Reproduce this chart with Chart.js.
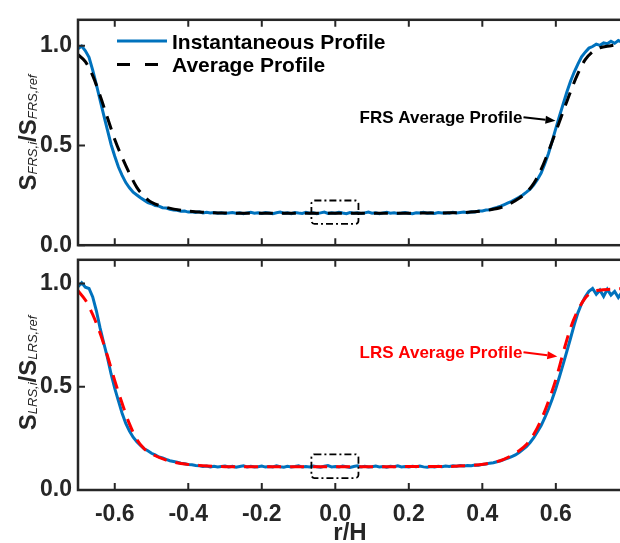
<!DOCTYPE html>
<html>
<head>
<meta charset="utf-8">
<script src="https://cdn.jsdelivr.net/npm/chart.js@4.4.1/dist/chart.umd.min.js"></script>
<style>
  html, body { margin: 0; padding: 0; background: #fff; overflow: hidden; width: 620px; height: 543px; }
  canvas { position: absolute; left: 0; }
  #top { top: 0; }
  #bottom { top: 240px; }
</style>
</head>
<body>
<canvas id="top" width="624" height="265"></canvas>
<canvas id="bottom" width="624" height="303"></canvas>
<script>
// r/H positions of the instantaneous profiles
const rH = [
  -0.70, -0.69, -0.68, -0.67, -0.66, -0.65, -0.64, -0.63, -0.62, -0.61,
  -0.60, -0.59, -0.58, -0.57, -0.56, -0.55, -0.54, -0.53, -0.52, -0.51,
  -0.50, -0.49, -0.48, -0.47, -0.46, -0.45, -0.44, -0.43, -0.42, -0.41,
  -0.40, -0.39, -0.38, -0.37, -0.36, -0.35, -0.34, -0.33, -0.32, -0.31,
  -0.30, -0.29, -0.28, -0.27, -0.26, -0.25, -0.24, -0.23, -0.22, -0.21,
  -0.20, -0.19, -0.18, -0.17, -0.16, -0.15, -0.14, -0.13, -0.12, -0.11,
  -0.10, -0.09, -0.08, -0.07, -0.06, -0.05, -0.04, -0.03, -0.02, -0.01,
  0.00, 0.01, 0.02, 0.03, 0.04, 0.05, 0.06, 0.07, 0.08, 0.09,
  0.10, 0.11, 0.12, 0.13, 0.14, 0.15, 0.16, 0.17, 0.18, 0.19,
  0.20, 0.21, 0.22, 0.23, 0.24, 0.25, 0.26, 0.27, 0.28, 0.29,
  0.30, 0.31, 0.32, 0.33, 0.34, 0.35, 0.36, 0.37, 0.38, 0.39,
  0.40, 0.41, 0.42, 0.43, 0.44, 0.45, 0.46, 0.47, 0.48, 0.49,
  0.50, 0.51, 0.52, 0.53, 0.54, 0.55, 0.56, 0.57, 0.58, 0.59,
  0.60, 0.61, 0.62, 0.63, 0.64, 0.65, 0.66, 0.67, 0.68, 0.69,
  0.70, 0.71, 0.72, 0.73, 0.74, 0.75, 0.76, 0.77, 0.78
];

const frsInst = [
  0.985, 0.998, 0.975, 0.942, 0.878, 0.805, 0.728, 0.652, 0.578, 0.505,
  0.446, 0.392, 0.350, 0.314, 0.288, 0.266, 0.252, 0.238, 0.226, 0.214,
  0.208, 0.199, 0.196, 0.188, 0.186, 0.180, 0.177, 0.175, 0.170, 0.171,
  0.166, 0.168, 0.164, 0.167, 0.162, 0.165, 0.161, 0.164, 0.160, 0.163,
  0.159, 0.162, 0.164, 0.160, 0.163, 0.158, 0.162, 0.165, 0.160, 0.163,
  0.159, 0.164, 0.161, 0.158, 0.163, 0.166, 0.160, 0.162, 0.158, 0.164,
  0.161, 0.159, 0.165, 0.160, 0.163, 0.158, 0.162, 0.166, 0.159, 0.163,
  0.160, 0.165, 0.161, 0.158, 0.164, 0.160, 0.163, 0.159, 0.162, 0.166,
  0.160, 0.163, 0.158, 0.162, 0.165, 0.160, 0.163, 0.159, 0.161, 0.164,
  0.160, 0.158, 0.163, 0.161, 0.165, 0.160, 0.162, 0.159, 0.164, 0.161,
  0.163, 0.160, 0.165, 0.162, 0.164, 0.166, 0.163, 0.168, 0.167, 0.171,
  0.172, 0.176, 0.178, 0.184, 0.189, 0.196, 0.204, 0.212, 0.220, 0.230,
  0.240, 0.252, 0.266, 0.281, 0.302, 0.330, 0.362, 0.408, 0.460, 0.522,
  0.586, 0.648, 0.708, 0.768, 0.822, 0.868, 0.908, 0.944, 0.968, 0.988,
  0.996, 1.008, 1.002, 1.014, 1.010, 1.022, 1.012, 1.026, 1.018
];

const lrsInst = [
  0.985, 1.004, 0.982, 0.976, 0.935, 0.868, 0.785, 0.712, 0.642, 0.562,
  0.492, 0.432, 0.372, 0.322, 0.286, 0.256, 0.234, 0.216, 0.200, 0.190,
  0.178, 0.170, 0.160, 0.155, 0.148, 0.142, 0.138, 0.134, 0.130, 0.127,
  0.124, 0.122, 0.119, 0.117, 0.114, 0.116, 0.112, 0.115, 0.111, 0.114,
  0.116, 0.112, 0.115, 0.110, 0.114, 0.117, 0.112, 0.115, 0.111, 0.113,
  0.116, 0.111, 0.114, 0.112, 0.117, 0.113, 0.110, 0.115, 0.112, 0.114,
  0.117, 0.111, 0.114, 0.112, 0.116, 0.113, 0.110, 0.115, 0.118, 0.112,
  0.114, 0.111, 0.116, 0.113, 0.109, 0.114, 0.117, 0.112, 0.115, 0.111,
  0.113, 0.116, 0.112, 0.114, 0.110, 0.115, 0.113, 0.117, 0.112, 0.114,
  0.111, 0.115, 0.113, 0.116, 0.112, 0.110, 0.114, 0.112, 0.115, 0.113,
  0.116, 0.114, 0.117, 0.115, 0.118, 0.116, 0.119, 0.118, 0.121, 0.120,
  0.124, 0.126, 0.130, 0.132, 0.137, 0.141, 0.148, 0.154, 0.162, 0.170,
  0.182, 0.196, 0.210, 0.230, 0.254, 0.282, 0.312, 0.350, 0.392, 0.440,
  0.492, 0.550, 0.610, 0.672, 0.735, 0.800, 0.858, 0.902, 0.936, 0.962,
  0.976, 0.948, 0.968, 0.938, 0.972, 0.944, 0.962, 0.932, 0.958
];

// average profiles (smooth, fewer points)
const avgRH = [-0.70, -0.68, -0.66, -0.64, -0.62, -0.60, -0.58, -0.56, -0.54, -0.52,
  -0.50, -0.46, -0.42, -0.36, -0.30, 0.00, 0.30, 0.36, 0.42, 0.46,
  0.50, 0.52, 0.54, 0.56, 0.58, 0.60, 0.62, 0.64, 0.66, 0.68,
  0.70, 0.72, 0.75, 0.78];
const frsAvg = [0.955, 0.920, 0.850, 0.750, 0.640, 0.530, 0.440, 0.360, 0.290, 0.245,
  0.215, 0.190, 0.175, 0.165, 0.161, 0.160, 0.162, 0.165, 0.177, 0.195,
  0.235, 0.265, 0.310, 0.380, 0.470, 0.570, 0.670, 0.770, 0.860, 0.930,
  0.970, 0.990, 1.000, 1.010];
const lrsAvg = [0.965, 0.920, 0.850, 0.760, 0.650, 0.530, 0.420, 0.320, 0.245, 0.200,
  0.175, 0.145, 0.128, 0.118, 0.113, 0.113, 0.114, 0.118, 0.130, 0.150,
  0.190, 0.220, 0.270, 0.340, 0.430, 0.535, 0.665, 0.785, 0.870, 0.930,
  0.960, 0.968, 0.972, 0.975];

const xTicks = [-0.6, -0.4, -0.2, 0.0, 0.2, 0.4, 0.6];
const yTicks = [0.0, 0.5, 1.0];

const FONT = '"Liberation Sans", Arial, Helvetica, sans-serif';
const INK = '#262626';
const BLUE = '#0072BD';

function pts(xs, ys) {
  return xs.map((x, i) => ({ x: x, y: ys[i] }));
}

function arrow(ctx, x0, y0, x1, y1, color) {
  const a = Math.atan2(y1 - y0, x1 - x0), L = 10, W = 4;
  const bx = x1 - L * Math.cos(a), by = y1 - L * Math.sin(a);
  ctx.strokeStyle = color;
  ctx.fillStyle = color;
  ctx.lineWidth = 2;
  ctx.setLineDash([]);
  ctx.beginPath();
  ctx.moveTo(x0, y0);
  ctx.lineTo(bx, by);
  ctx.stroke();
  ctx.beginPath();
  ctx.moveTo(x1, y1);
  ctx.lineTo(bx + W * Math.sin(a), by - W * Math.cos(a));
  ctx.lineTo(bx - W * Math.sin(a), by + W * Math.cos(a));
  ctx.closePath();
  ctx.fill();
}

function drawYLabel(ctx, cx, cy, sub1, sub2) {
  const parts = [
    { t: 'S', f: 'bold 24px ' + FONT, d: 0 },
    { t: sub1, f: 'italic 13px ' + FONT, d: 1 },
    { t: '/S', f: 'bold 24px ' + FONT, d: 0 },
    { t: sub2, f: 'italic 13px ' + FONT, d: 1 }
  ];
  ctx.save();
  ctx.translate(cx, cy);
  ctx.rotate(-Math.PI / 2);
  let w = 0;
  parts.forEach(p => { ctx.font = p.f; p.w = ctx.measureText(p.t).width; w += p.w; });
  let x = -w / 2;
  ctx.fillStyle = INK;
  ctx.textAlign = 'left';
  ctx.textBaseline = 'alphabetic';
  parts.forEach(p => { ctx.font = p.f; ctx.fillText(p.t, x, p.d); x += p.w; });
  ctx.restore();
}

// frame, inward ticks, dash-dot box, legend, annotations
const decor = {
  id: 'decor',
  afterDatasetsDraw(chart, args, o) {
    const { ctx, scales: { x, y } } = chart;
    ctx.save();
    // dash-dot box around the centre
    const bx0 = x.getPixelForValue(o.box[0]), bx1 = x.getPixelForValue(o.box[1]);
    const by0 = y.getPixelForValue(o.box[3]), by1 = y.getPixelForValue(o.box[2]);
    ctx.strokeStyle = '#000';
    ctx.lineWidth = 1.8;
    ctx.setLineDash([7, 3, 2, 3]);
    ctx.beginPath();
    ctx.roundRect(bx0, by0, bx1 - bx0, by1 - by0, 3);
    ctx.stroke();
    ctx.restore();
  },
  afterDraw(chart, args, o) {
    const { ctx, chartArea: a, scales: { x, y } } = chart;
    ctx.save();
    ctx.strokeStyle = INK;
    ctx.lineWidth = 2.5;
    ctx.setLineDash([]);
    ctx.strokeRect(a.left, a.top, a.right - a.left, a.bottom - a.top);
    ctx.lineWidth = 2;
    ctx.beginPath();
    x.ticks.forEach(t => {
      const px = x.getPixelForValue(t.value);
      ctx.moveTo(px, a.bottom); ctx.lineTo(px, a.bottom - 7);
      ctx.moveTo(px, a.top); ctx.lineTo(px, a.top + 7);
    });
    y.ticks.forEach(t => {
      const py = y.getPixelForValue(t.value);
      ctx.moveTo(a.left, py); ctx.lineTo(a.left + 7, py);
    });
    ctx.stroke();

    drawYLabel(ctx, 36, (a.top + a.bottom) / 2 + o.labelShift, o.sub[0], o.sub[1]);

    // annotation with arrow
    const n = o.note;
    ctx.font = 'bold 17px ' + FONT;
    ctx.fillStyle = n.color;
    ctx.textAlign = 'right';
    ctx.textBaseline = 'alphabetic';
    ctx.fillText(n.text, x.getPixelForValue(n.at[0]), y.getPixelForValue(n.at[1]));
    arrow(ctx, x.getPixelForValue(n.from[0]), y.getPixelForValue(n.from[1]),
      x.getPixelForValue(n.to[0]), y.getPixelForValue(n.to[1]), n.color);

    if (o.legend) {
      const ds = chart.data.datasets;
      const rows = [ds[1], ds[0]];
      ctx.font = 'bold 21px ' + FONT;
      ctx.textAlign = 'left';
      ctx.fillStyle = '#000';
      rows.forEach((d, i) => {
        const ly = 41 + i * 23.5;
        ctx.strokeStyle = d.borderColor;
        ctx.lineWidth = 3;
        ctx.setLineDash(d.borderDash && d.borderDash.length ? [13, 15] : []);
        ctx.beginPath();
        ctx.moveTo(117, ly);
        ctx.lineTo(167, ly);
        ctx.stroke();
        ctx.fillText(d.label, 172, ly + 7.5);
      });
    }

    if (o.xtitle) {
      ctx.font = 'bold 24px ' + FONT;
      ctx.fillStyle = INK;
      ctx.textAlign = 'center';
      ctx.fillText(o.xtitle, (a.left + a.right) / 2, chart.height - 3);
    }
    ctx.restore();
  }
};

function makePanel(id, inst, avg, avgColor, yMax, padTop, xHeight, showX, extra) {
  return new Chart(document.getElementById(id), {
    type: 'line',
    data: {
      datasets: [
        {
          label: 'Average Profile',
          data: pts(avgRH, avg),
          borderColor: avgColor,
          borderWidth: 3,
          borderDash: [14, 9],
          pointRadius: 0,
          cubicInterpolationMode: 'monotone',
          order: 0
        },
        {
          label: 'Instantaneous Profile',
          data: pts(rH, inst),
          borderColor: BLUE,
          borderWidth: 3,
          pointRadius: 0,
          tension: 0,
          order: 1
        }
      ]
    },
    options: {
      responsive: false,
      animation: false,
      layout: { padding: { top: padTop, right: 2, left: 0, bottom: 0 } },
      plugins: { legend: { display: false }, tooltip: { enabled: false }, decor: extra },
      scales: {
        x: {
          type: 'linear',
          min: -0.70,
          max: 0.78,
          afterBuildTicks: s => { s.ticks = xTicks.map(v => ({ value: v })); },
          afterFit: s => { s.height = xHeight; },
          grid: { display: false, drawTicks: false },
          border: { display: false },
          ticks: {
            display: showX,
            padding: 11,
            color: INK,
            font: { family: FONT, size: 23, weight: 'bold' },
            callback: v => v.toFixed(1)
          }
        },
        y: {
          min: 0,
          max: yMax,
          afterBuildTicks: s => { s.ticks = yTicks.map(v => ({ value: v })); },
          afterFit: s => { s.width = 78; },
          grid: { display: false, drawTicks: false },
          border: { display: false },
          ticks: {
            padding: 6,
            color: INK,
            font: { family: FONT, size: 23, weight: 'bold' },
            callback: v => v.toFixed(1)
          }
        }
      }
    },
    plugins: [decor]
  });
}

makePanel('top', frsInst, frsAvg, '#000000', 1.13, 15, 18, false, {
  box: [-0.065, 0.063, 0.107, 0.224],
  sub: ['FRS,i', 'FRS,ref'],
  labelShift: 0,
  legend: true,
  note: { text: 'FRS Average Profile', color: '#000000', at: [0.509, 0.612], from: [0.512, 0.641], to: [0.599, 0.624] }
});

makePanel('bottom', lrsInst, lrsAvg, '#FF0000', 1.115, 19, 53, true, {
  box: [-0.065, 0.063, 0.058, 0.173],
  sub: ['LRS,i', 'LRS,ref'],
  labelShift: -2,
  legend: false,
  xtitle: 'r/H',
  note: { text: 'LRS Average Profile', color: '#FF0000', at: [0.509, 0.638], from: [0.512, 0.667], to: [0.604, 0.647] }
});
</script>
</body>
</html>
